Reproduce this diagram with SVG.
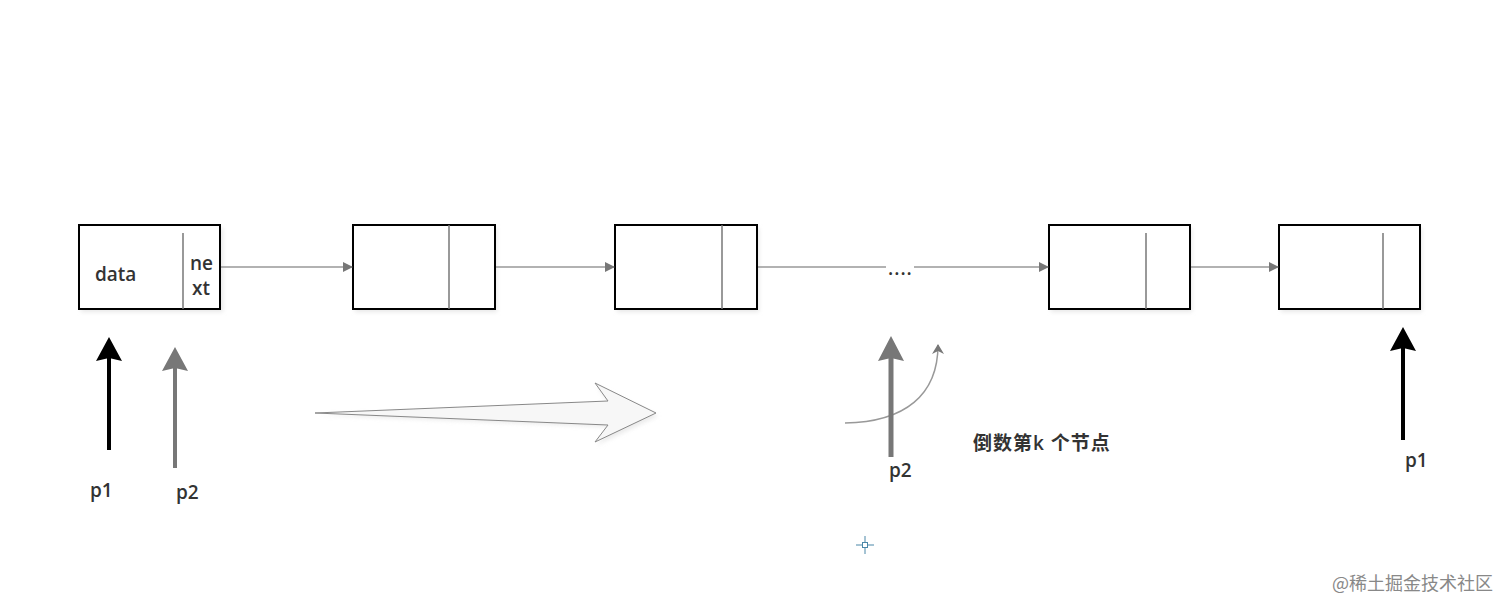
<svg xmlns="http://www.w3.org/2000/svg" width="1512" height="614" viewBox="0 0 1512 614">
<defs>
<style>
.box{fill:#fff;stroke:#000;stroke-width:2}
.shadow{fill:#e8e8e8}
.div{stroke:#777;stroke-width:1.5}
.conn{stroke:#999;stroke-width:1.5;fill:none}
.lbl{font-family:"Open Sans","Noto Sans CJK SC",sans-serif;font-size:19px;font-weight:600;fill:#333}
</style>
<marker id="ah" markerWidth="10" markerHeight="10" refX="9" refY="5" orient="auto" markerUnits="userSpaceOnUse">
<path d="M0,0 L10,5 L0,10 Z" fill="#777"/>
</marker>
<marker id="ah2" markerWidth="10" markerHeight="12" refX="9" refY="6" orient="auto" markerUnits="userSpaceOnUse">
<path d="M0,0 L10,6 L0,12 L3,6 Z" fill="#777"/>
</marker>
<filter id="sh" x="-10%" y="-10%" width="120%" height="130%">
<feGaussianBlur stdDeviation="2"/>
</filter>
</defs>
<rect width="1512" height="614" fill="#fff"/>

<g id="node1">
<rect x="81" y="228" width="142" height="84" class="shadow" filter="url(#sh)"/>
<rect x="79" y="225" width="141" height="84" class="box"/>
<line x1="183" y1="233" x2="183" y2="309" class="div"/>
<text x="95" y="281" class="lbl">data</text>
<text x="190" y="270" class="lbl">ne</text>
<text x="192" y="295" class="lbl">xt</text>
</g>
<g id="node2">
<rect x="355" y="228" width="142" height="84" class="shadow" filter="url(#sh)"/>
<rect x="353" y="225" width="142" height="84" class="box"/>
<line x1="449" y1="225" x2="449" y2="309" class="div"/>
</g>
<g id="node3">
<rect x="617" y="228" width="142" height="84" class="shadow" filter="url(#sh)"/>
<rect x="615" y="225" width="142" height="84" class="box"/>
<line x1="722" y1="225" x2="722" y2="309" class="div"/>
</g>
<g id="node4">
<rect x="1051" y="228" width="141" height="84" class="shadow" filter="url(#sh)"/>
<rect x="1049" y="225" width="141" height="84" class="box"/>
<line x1="1146" y1="233" x2="1146" y2="309" class="div"/>
</g>
<g id="node5">
<rect x="1281" y="228" width="141" height="84" class="shadow" filter="url(#sh)"/>
<rect x="1279" y="225" width="141" height="84" class="box"/>
<line x1="1383" y1="233" x2="1383" y2="309" class="div"/>
</g>

<g id="connectors">
<line x1="221" y1="267" x2="352" y2="267" class="conn" marker-end="url(#ah)"/>
<line x1="496" y1="267" x2="614" y2="267" class="conn" marker-end="url(#ah)"/>
<line x1="758" y1="267" x2="886" y2="267" class="conn"/>
<line x1="914" y1="267" x2="1048" y2="267" class="conn" marker-end="url(#ah)"/>
<line x1="1191" y1="267" x2="1278" y2="267" class="conn" marker-end="url(#ah)"/>
<path d="M845,423 C905,422 938,395 938,345" class="conn" stroke="#888" marker-end="url(#ah2)"/>
</g>
<text x="888" y="275" class="lbl" font-size="15" letter-spacing="1">....</text>

<g id="p1-left">
<line x1="109" y1="450" x2="109" y2="358" stroke="#000" stroke-width="4"/>
<path d="M109,337 L122,361 L109,358 L96,361 Z" fill="#000"/>
<text x="90" y="497" class="lbl">p1</text>
</g>
<g id="p2-left">
<line x1="175" y1="468" x2="175" y2="368" stroke="#777" stroke-width="4"/>
<path d="M175,347 L188,371 L175,368 L162,371 Z" fill="#777"/>
<text x="176" y="499" class="lbl">p2</text>
</g>

<g id="big-arrow">
<path d="M317,415 L610,405 L597,386 L658,416 L597,445 L610,427 Z" fill="#ddd" opacity="0.6" filter="url(#sh)"/>
<path d="M315,413 L608,401 L595,383 L656,413 L595,442 L608,425 Z" fill="#f7f7f7" stroke="#888" stroke-width="1"/>
</g>

<g id="p2-mid">
<line x1="891" y1="457" x2="891" y2="358" stroke="#777" stroke-width="5"/>
<path d="M891,336 L904,361 L891,358 L878,361 Z" fill="#777"/>
<text x="889" y="477" class="lbl">p2</text>
</g>

<text x="973" y="450" class="lbl" font-size="20" letter-spacing="1">倒数第k 个节点</text>

<g id="p1-right">
<line x1="1403" y1="440" x2="1403" y2="348" stroke="#000" stroke-width="4"/>
<path d="M1403,327 L1416,351 L1403,348 L1390,351 Z" fill="#000"/>
<text x="1405" y="467" class="lbl">p1</text>
</g>

<g id="cursor" stroke="#4a87a8" stroke-width="1" fill="none">
<line x1="856" y1="545" x2="862" y2="545"/>
<line x1="868" y1="545" x2="874" y2="545"/>
<line x1="865" y1="536" x2="865" y2="542"/>
<line x1="865" y1="548" x2="865" y2="554"/>
<rect x="862.5" y="542.5" width="5" height="5"/>
</g>

<text x="1332" y="590" font-family="'Noto Sans CJK SC',sans-serif" font-size="18" fill="#888">@稀土掘金技术社区</text>
</svg>
